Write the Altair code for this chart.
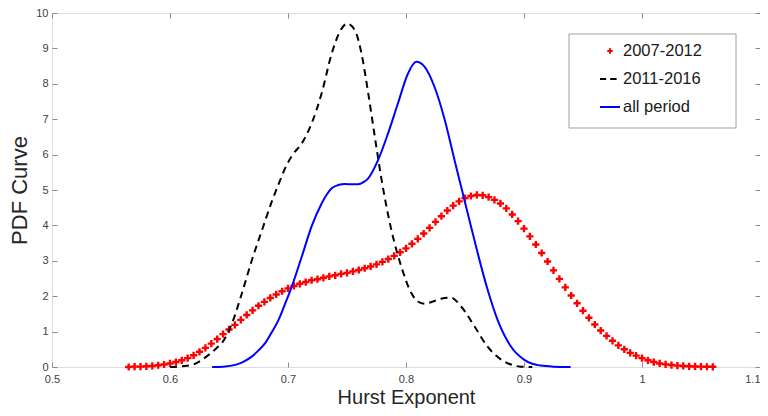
import altair as alt
import pandas as pd

# ---------------- data ----------------
series_names = ["2007-2012", "2011-2016", "all period"]
series_colors = ["#ff0000", "#000000", "#0000ff"]
series_shapes = ["M-0.27,0L0.27,0M0,-0.27L0,0.27", "M-1,0L-0.38,0M0.02,0L0.66,0", "M-1,0L1,0"]

red_x = [0.565, 0.570, 0.575, 0.580, 0.585, 0.590, 0.595, 0.600, 0.605, 0.610,
         0.615, 0.620, 0.625, 0.630, 0.635, 0.640, 0.645, 0.650, 0.655, 0.660,
         0.665, 0.670, 0.675, 0.680, 0.685, 0.690, 0.695, 0.700, 0.705, 0.710,
         0.715, 0.720, 0.725, 0.730, 0.735, 0.740, 0.745, 0.750, 0.755, 0.760,
         0.765, 0.770, 0.775, 0.780, 0.785, 0.790, 0.795, 0.800, 0.805, 0.810,
         0.815, 0.820, 0.825, 0.830, 0.835, 0.840, 0.845, 0.850, 0.855, 0.860,
         0.865, 0.870, 0.875, 0.880, 0.885, 0.890, 0.895, 0.900, 0.905, 0.910,
         0.915, 0.920, 0.925, 0.930, 0.935, 0.940, 0.945, 0.950, 0.955, 0.960,
         0.965, 0.970, 0.975, 0.980, 0.985, 0.990, 0.995, 1.000, 1.005, 1.010,
         1.015, 1.020, 1.025, 1.030, 1.035, 1.040, 1.045, 1.050, 1.055, 1.060]
red_y = [0.00, 0.01, 0.01, 0.02, 0.03, 0.05, 0.07, 0.10, 0.14, 0.19,
         0.25, 0.33, 0.43, 0.54, 0.66, 0.79, 0.93, 1.06, 1.19, 1.33,
         1.47, 1.60, 1.73, 1.84, 1.95, 2.05, 2.14, 2.22, 2.29, 2.35,
         2.40, 2.45, 2.48, 2.52, 2.56, 2.59, 2.63, 2.66, 2.70, 2.74,
         2.79, 2.84, 2.90, 2.97, 3.05, 3.14, 3.24, 3.35, 3.48, 3.62,
         3.77, 3.93, 4.10, 4.26, 4.42, 4.56, 4.68, 4.77, 4.83, 4.86,
         4.85, 4.80, 4.72, 4.62, 4.48, 4.31, 4.12, 3.91, 3.69, 3.46,
         3.22, 2.98, 2.73, 2.49, 2.25, 2.02, 1.80, 1.59, 1.39, 1.20,
         1.03, 0.88, 0.74, 0.61, 0.50, 0.40, 0.32, 0.25, 0.19, 0.14,
         0.10, 0.075, 0.055, 0.04, 0.03, 0.02, 0.015, 0.01, 0.007, 0.005]

black_x = [0.600, 0.610, 0.619, 0.626, 0.633, 0.640, 0.644, 0.6526, 0.661, 0.6695,
           0.678, 0.686, 0.6934, 0.6976, 0.704, 0.7117, 0.720, 0.7285, 0.737, 0.7454,
           0.750, 0.7567, 0.7623, 0.768, 0.7736, 0.779, 0.7876, 0.796, 0.8045, 0.810,
           0.8158, 0.823, 0.8298, 0.838, 0.8467, 0.858, 0.869, 0.876, 0.883, 0.890,
           0.897, 0.907]
black_y = [0.00, 0.02, 0.06, 0.18, 0.35, 0.55, 0.68, 1.24, 2.09, 3.03,
           3.87, 4.65, 5.28, 5.62, 6.00, 6.32, 6.88, 7.73, 8.85, 9.56,
           9.70, 9.51, 8.85, 7.73, 6.50, 5.35, 3.87, 2.84, 2.09, 1.85,
           1.79, 1.85, 1.93, 1.96, 1.71, 1.15, 0.58, 0.33, 0.16, 0.06,
           0.01, 0.00]

blue_x = [0.6357, 0.645, 0.6554, 0.6625, 0.6695, 0.675, 0.6808, 0.686, 0.692, 0.6975,
          0.7032, 0.7117, 0.720, 0.7285, 0.733, 0.737, 0.7426, 0.7483, 0.754, 0.7595,
          0.764, 0.768, 0.7764, 0.7848, 0.7932, 0.8017, 0.8087, 0.8158, 0.8242, 0.8327,
          0.8411, 0.8523, 0.8608, 0.8692, 0.8776, 0.8889, 0.900, 0.907, 0.914, 0.925,
          0.9395]
blue_y = [0.00, 0.01, 0.06, 0.15, 0.30, 0.47, 0.68, 0.97, 1.33, 1.78,
          2.27, 3.12, 3.97, 4.62, 4.88, 5.05, 5.14, 5.17, 5.16, 5.16,
          5.22, 5.33, 5.85, 6.60, 7.45, 8.29, 8.62, 8.48, 7.91, 7.00,
          5.85, 4.34, 3.21, 2.18, 1.33, 0.58, 0.21, 0.09, 0.04, 0.01,
          0.00]

x_ticks = [0.5, 0.6, 0.7, 0.8, 0.9, 1.0, 1.1]
y_ticks = [0, 1, 2, 3, 4, 5, 6, 7, 8, 9, 10]

# ---------------- tables ----------------
red_df = pd.DataFrame({"x": red_x, "y": red_y, "series": series_names[0]})
black_df = pd.DataFrame({"x": black_x, "y": black_y, "series": series_names[1]})
blue_df = pd.DataFrame({"x": blue_x, "y": blue_y, "series": series_names[2]})
box_df = pd.DataFrame({"box": ["legend"]})

FONT = "Liberation Sans"
TICK_COLOR = "#8c8c8c"
W, H = 708, 354

x_scale = alt.Scale(domain=[0.5, 1.1], nice=False, zero=False)
y_scale = alt.Scale(domain=[0, 10], nice=False, zero=False)

x_axis = alt.Axis(values=x_ticks, format=".1~f", orient="bottom", offset=-5, tickSize=5,
                  tickColor=TICK_COLOR, domain=False, grid=False, labelFlush=False,
                  labelOverlap=False,
                  labelAlign={"condition": {"test": "datum.value > 1.05", "value": "right"},
                              "value": "center"},
                  labelFont=FONT, labelFontSize=11, labelColor="#404040", labelPadding=6.5,
                  title="Hurst Exponent", titleFont=FONT, titleFontSize=20,
                  titleFontWeight="normal", titleColor="#262626",
                  titleBaseline="alphabetic", titleY=41.8)
y_axis = alt.Axis(values=y_ticks, format="d", orient="left", offset=-5, tickSize=5,
                  tickColor=TICK_COLOR, domain=False, grid=False, labelFlush=False,
                  labelOverlap=False,
                  labelFont=FONT, labelFontSize=11, labelColor="#404040", labelPadding=4,
                  title="PDF Curve", titleFont=FONT, titleFontSize=22,
                  titleFontWeight="normal", titleColor="#262626", titlePadding=4)

legend = alt.Legend(orient="none", legendX=517, legendY=21, title=None,
                    labelFont=FONT, labelFontSize=16.5, labelColor="#1a1a1a",
                    symbolSize=400, symbolStrokeWidth=2, symbolOffset=24, labelOffset=2,
                    padding=6, rowPadding=8)

red = alt.Chart(red_df).mark_point(filled=False, size=712, strokeWidth=2.4, opacity=1).encode(
    x=alt.X("x:Q", scale=x_scale, axis=x_axis),
    y=alt.Y("y:Q", scale=y_scale, axis=y_axis),
    color=alt.Color("series:N", scale=alt.Scale(domain=series_names, range=series_colors),
                    legend=legend),
    shape=alt.Shape("series:N", scale=alt.Scale(domain=series_names, range=series_shapes),
                    legend=legend),
)

black = alt.Chart(black_df).mark_line(color="#000000", strokeWidth=2, strokeDash=[7, 5],
                                      interpolate="monotone").encode(
    x=alt.X("x:Q", scale=x_scale, axis=x_axis),
    y=alt.Y("y:Q", scale=y_scale, axis=y_axis),
)

blue = alt.Chart(blue_df).mark_line(color="#0000ff", strokeWidth=2,
                                    interpolate="monotone").encode(
    x=alt.X("x:Q", scale=x_scale, axis=x_axis),
    y=alt.Y("y:Q", scale=y_scale, axis=y_axis),
)

# legend frame (white box with grey border, MATLAB style)
frame = alt.Chart(box_df).mark_rect(fill="white", stroke="#a0a0a0", strokeWidth=1).encode(
    x=alt.value(517), x2=alt.value(684), y=alt.value(21), y2=alt.value(115)
)

main = alt.layer(red, black, blue, frame)

# mirrored tick marks on top and right (MATLAB box style)
mirror = alt.Chart(blue_df).mark_point(opacity=0).encode(
    x=alt.X("x:Q", scale=x_scale,
            axis=alt.Axis(values=x_ticks, orient="top", offset=-5, tickSize=5,
                          tickColor=TICK_COLOR, domain=False, grid=False, labels=False,
                          title=None)),
    y=alt.Y("y:Q", scale=y_scale,
            axis=alt.Axis(values=y_ticks, orient="right", offset=-5, tickSize=5,
                          tickColor=TICK_COLOR, domain=False, grid=False, labels=False,
                          title=None)),
)

chart = alt.layer(main, mirror).resolve_scale(x="independent", y="independent").properties(
    width=W, height=H,
    autosize=alt.AutoSizeParams(type="none"),
    padding={"left": 44, "top": 5, "right": 0, "bottom": 41},
).configure_view(stroke="#9a9a9a", strokeWidth=1).configure_axis(
    labelOverlap=False
).configure(background="white")

chart.save("out.html", embed_options={"renderer": "svg", "actions": False})
